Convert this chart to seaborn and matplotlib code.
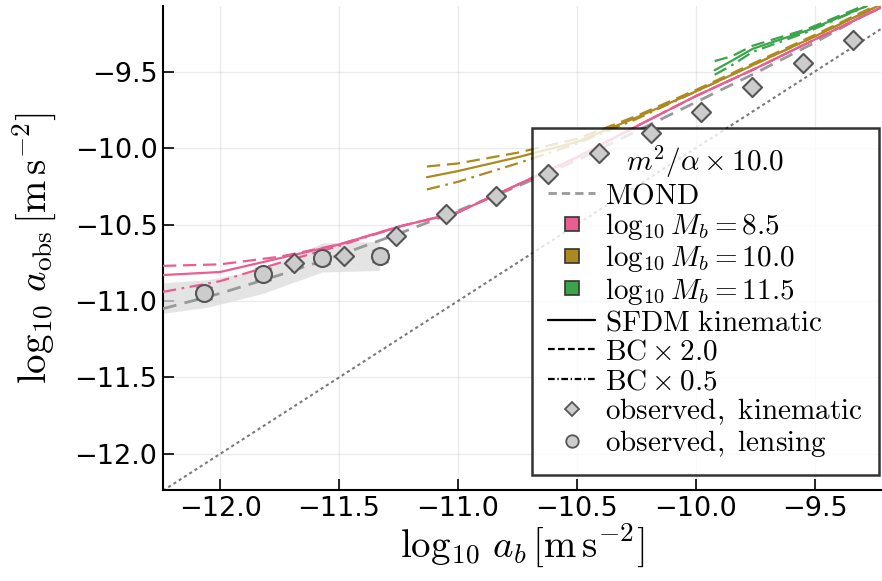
import numpy as np
import pandas as pd
import matplotlib
matplotlib.use("Agg")
import matplotlib.pyplot as plt
import seaborn as sns
from matplotlib.lines import Line2D

# values (log10 accelerations)
mond_x = [-12.24, -12.0, -11.75, -11.5, -11.25, -11.0, -10.75, -10.5, -10.25, -10.0, -9.75, -9.5, -9.22]
mond_y = [-11.05, -10.95, -10.83, -10.70, -10.56, -10.41, -10.25, -10.08, -9.89, -9.70, -9.51, -9.31, -9.07]

pink_x = [-12.24, -12.0, -11.75, -11.5, -11.24, -11.0, -10.75, -10.5, -10.24, -10.0, -9.75, -9.5, -9.22]
pink_solid = [-10.83, -10.81, -10.72, -10.63, -10.51, -10.42, -10.24, -10.06, -9.85, -9.66, -9.48, -9.29, -9.08]
pink_dash = [-10.77, -10.76, -10.71, -10.63, -10.51, -10.42, -10.24, -10.06, -9.85, -9.66, -9.48, -9.29, -9.08]
pink_dashdot = [-10.94, -10.87, -10.75, -10.64, -10.51, -10.42, -10.24, -10.06, -9.85, -9.66, -9.48, -9.29, -9.08]

gold_x = [-11.13, -11.0, -10.75, -10.5, -10.25, -10.0, -9.75, -9.5, -9.22]
gold_solid = [-10.19, -10.15, -10.06, -9.96, -9.80, -9.63, -9.45, -9.27, -9.06]
gold_dash = [-10.12, -10.10, -10.03, -9.94, -9.79, -9.62, -9.44, -9.26, -9.05]
gold_dashdot = [-10.27, -10.22, -10.10, -9.97, -9.81, -9.63, -9.45, -9.27, -9.06]

green_x = [-9.92, -9.85, -9.76, -9.53, -9.28]
green_solid = [-9.49, -9.43, -9.35, -9.23, -9.07]
green_dash = [-9.43, -9.40, -9.33, -9.22, -9.06]
green_dashdot = [-9.52, -9.46, -9.37, -9.24, -9.07]

# observed, kinematic (diamonds)
kin_x = [-11.689, -11.479, -11.261, -11.050, -10.840, -10.622, -10.408, -10.189, -9.979, -9.761, -9.550, -9.340]
kin_y = [-10.750, -10.704, -10.573, -10.429, -10.312, -10.168, -10.030, -9.899, -9.762, -9.598, -9.441, -9.291]

# observed, lensing (circles) and its band
lens_x = [-12.067, -11.819, -11.571, -11.328]
lens_y = [-10.946, -10.822, -10.717, -10.704]
lens_err = [0.04, 0.04, 0.04, 0.04]
band_x = [-12.24, -12.05, -11.82, -11.57, -11.33]
band_lo = [-11.08, -11.04, -10.95, -10.81, -10.80]
band_hi = [-10.88, -10.86, -10.79, -10.62, -10.61]

xlim = (-12.24, -9.22)
ylim = (-12.236, -9.07)

pink = "#ea5d92"
gold = "#ad8a1e"
green = "#3ba54b"
dashed = (0, (6, 3))
dashdot = (0, (6, 2.5, 1.2, 2.5))

sns.set_style("ticks")
plt.rcParams["mathtext.fontset"] = "cm"
plt.rcParams["font.family"] = ["DejaVu Sans"]
plt.rcParams["xtick.direction"] = "in"
plt.rcParams["ytick.direction"] = "in"
plt.rcParams["text.color"] = "black"
plt.rcParams["axes.labelcolor"] = "black"

fig = plt.figure(figsize=(8.82, 5.81), dpi=100)
ax = fig.add_axes([0.1848, 0.1566, 0.8142, 0.8331])

ax.fill_between(band_x, band_lo, band_hi, color="#dcdcdc", alpha=0.75, lw=0, zorder=1)
ax.plot(xlim, xlim, color="#7a7a7a", ls=(0, (1.5, 1.5)), lw=1.5, zorder=2)

sns.lineplot(x=mond_x, y=mond_y, color="#999999", lw=2, linestyle=(0, (5, 3)), ax=ax, sort=False, estimator=None, zorder=3)

for xs, ys_list, c in [(pink_x, [pink_solid, pink_dash, pink_dashdot], pink),
                       (gold_x, [gold_solid, gold_dash, gold_dashdot], gold),
                       (green_x, [green_solid, green_dash, green_dashdot], green)]:
    for ys, ls in zip(ys_list, ["-", dashed, dashdot]):
        sns.lineplot(x=xs, y=ys, color=c, lw=1.6, linestyle=ls, ax=ax, sort=False, estimator=None, zorder=4)

ax.errorbar(lens_x, lens_y, yerr=lens_err, fmt="none", ecolor="#555555", elinewidth=1.2, capsize=6, zorder=5)
sns.scatterplot(x=kin_x, y=kin_y, marker="D", s=95, color="#cccccc", edgecolor="#555555", linewidth=1.5, ax=ax, zorder=6)
sns.scatterplot(x=lens_x, y=lens_y, marker="o", s=150, color="#cccccc", edgecolor="#555555", linewidth=1.5, ax=ax, zorder=6)

ax.set_xlim(xlim)
ax.set_ylim(ylim)
ax.set_xticks([-12.0, -11.5, -11.0, -10.5, -10.0, -9.5])
ax.set_yticks([-12.0, -11.5, -11.0, -10.5, -10.0, -9.5])
ax.tick_params(labelsize=19.5, length=8, width=1.2, color="black", labelcolor="black", pad=4)
ax.grid(True, color="#000000", alpha=0.08, lw=1)
for s in ["top", "right"]:
    ax.spines[s].set_visible(False)
for s in ["left", "bottom"]:
    ax.spines[s].set_linewidth(1.5)
    ax.spines[s].set_color("black")

ax.set_xlabel(r"$\log_{10}\, a_b\, [\mathrm{m\,s^{-2}}]$", fontsize=28, labelpad=0)
ax.set_ylabel(r"$\log_{10}\, a_\mathrm{obs}\, [\mathrm{m\,s^{-2}}]$", fontsize=28, labelpad=12)

handles = [
    Line2D([], [], color="#999999", lw=2, ls=(0, (3, 1.8))),
    Line2D([], [], ls="none", marker="s", ms=10, mfc=pink, mec="#333333", mew=1.2),
    Line2D([], [], ls="none", marker="s", ms=10, mfc=gold, mec="#333333", mew=1.2),
    Line2D([], [], ls="none", marker="s", ms=10, mfc=green, mec="#333333", mew=1.2),
    Line2D([], [], color="black", lw=1.6, ls="-"),
    Line2D([], [], color="black", lw=1.6, ls=(0, (3, 1.5))),
    Line2D([], [], color="black", lw=1.6, ls=(0, (3, 1.2, 0.6, 1.2))),
    Line2D([], [], ls="none", marker="D", ms=7, mfc="#cccccc", mec="#555555", mew=1.3),
    Line2D([], [], ls="none", marker="o", ms=9, mfc="#cccccc", mec="#555555", mew=1.3),
]
labels = [
    r"$\mathrm{MOND}$",
    r"$\log_{10} M_b = 8.5$",
    r"$\log_{10} M_b = 10.0$",
    r"$\log_{10} M_b = 11.5$",
    r"$\mathrm{SFDM\ kinematic}$",
    r"$\mathrm{BC} \times 2.0$",
    r"$\mathrm{BC} \times 0.5$",
    r"$\mathrm{observed,\ kinematic}$",
    r"$\mathrm{observed,\ lensing}$",
]
leg = ax.legend(handles, labels, title=r"$m^2/\alpha \times 10.0$", loc="lower right",
                bbox_to_anchor=(0.997, 0.03), borderaxespad=0, fontsize=21, title_fontsize=21,
                frameon=True, fancybox=False, framealpha=0.8, edgecolor="black",
                handlelength=1.6, handletextpad=0.35, labelspacing=0.05, borderpad=0.55)
leg.get_frame().set_linewidth(1.8)

fig.savefig("out.png", dpi=100)
